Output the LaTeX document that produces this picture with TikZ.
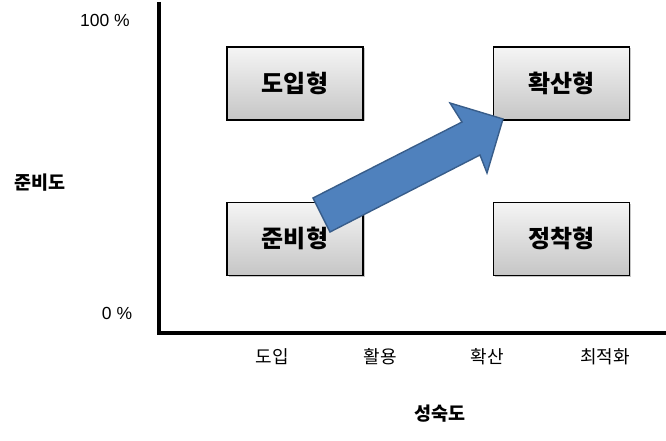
\documentclass[tikz,border=0pt]{standalone}
\usepackage{fontspec}
\setmainfont{Noto Sans CJK KR}
\newfontfamily\pctfont{Liberation Sans}
\usetikzlibrary{positioning, shadows}
\definecolor{arrowblue}{HTML}{4F81BD}
\definecolor{arrowedge}{HTML}{385D8A}

\begin{document}
\begin{tikzpicture}[
  x=1pt, y=-1pt,
  every node/.style={inner sep=0pt},
  stagebox/.style = {draw=black, line width=1.3pt, minimum width=136pt, minimum height=73pt,
                     top color=gray!8, bottom color=gray!45,
                     drop shadow={shadow xshift=1.5pt, shadow yshift=-1.5pt, opacity=0.45, fill=gray},
                     font=\fontsize{24}{27}\selectfont\bfseries},
  tick/.style     = {font=\fontsize{18}{20}\selectfont},
  pct/.style      = {font=\pctfont\fontsize{17.5}{19}\selectfont},
  axtitle/.style  = {font=\fontsize{18.5}{20}\selectfont\bfseries},
  axis/.style     = {line width=4pt},
  bigarrow/.style = {fill=arrowblue, draw=arrowedge, line width=1.4pt, line join=miter},
]
  \useasboundingbox (0,0) rectangle (666,441);
  % axes
  \coordinate (top)    at (159,2);
  \coordinate (origin) at (159,333);
  \coordinate (right)  at (666,333);
  \draw[axis] (top) -- (origin) -- (right);

  % quadrant boxes
  \node[stagebox]                          (intro)  at (295,83.5) {도입형};
  \node[stagebox, right=129pt of intro]    (spread) {확산형};
  \node[stagebox, below=81pt of intro]     (ready)  {준비형};
  \node[stagebox, below=81pt of spread]    (settle) {정착형};

  % transition arrow
  \draw[bigarrow] (313,198) -- (462,122) -- (450,103) -- (503,119)
                  -- (487,173) -- (480,155) -- (330,232) -- cycle;

  % axis labels
  \node[pct]     (hundred) at (105,20)  {100 \%};
  \node[pct]     (zero)    at (117,313) {0 \%};
  \node[axtitle] (yname)   at (40,183)  {준비도};
  \node[tick]    (t1)      at (272,357) {도입};
  \node[tick]    (t2)      at (380,357) {활용};
  \node[tick]    (t3)      at (487,357) {확산};
  \node[tick]    (t4)      at (605,357) {최적화};
  \node[axtitle] (xname)   at (440,414) {성숙도};
\end{tikzpicture}
\end{document}
